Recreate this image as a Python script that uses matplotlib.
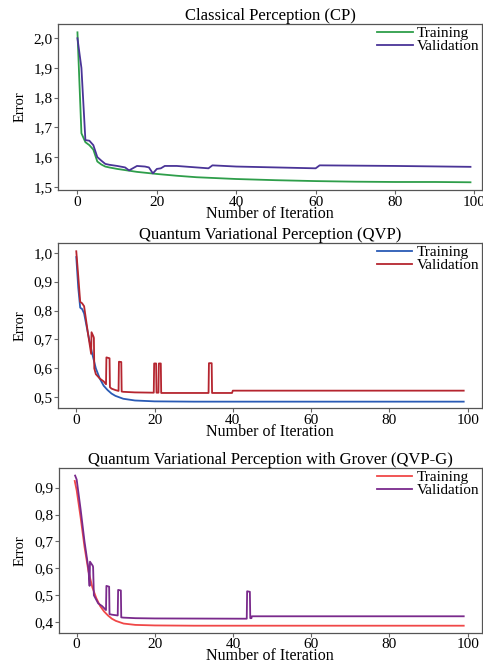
import matplotlib
matplotlib.use("Agg")
import matplotlib.pyplot as plt
from matplotlib.ticker import FuncFormatter

plt.rcParams['font.family'] = ['Liberation Serif', 'DejaVu Serif']

# --- Classical Perception (CP)
cp_train_x = [0, 1, 2, 3, 4, 5, 6, 7, 8, 10, 12, 15, 20, 25, 30, 40, 50, 60, 70, 80, 90, 99]
cp_train_y = [2.02, 1.68, 1.65, 1.64, 1.625, 1.585, 1.575, 1.568, 1.565, 1.56, 1.556, 1.55,
              1.543, 1.537, 1.532, 1.526, 1.522, 1.519, 1.517, 1.516, 1.516, 1.515]
cp_val_x = [0, 1, 2, 3, 4, 5, 6, 7, 8, 10, 12, 13, 15, 17, 18, 19, 20, 21, 22, 25,
            33, 34, 40, 50, 60, 61, 80, 99]
cp_val_y = [2.0, 1.9, 1.657, 1.655, 1.64, 1.60, 1.588, 1.577, 1.574, 1.57, 1.565, 1.555,
            1.57, 1.568, 1.565, 1.545, 1.56, 1.562, 1.57, 1.57, 1.562, 1.572, 1.568,
            1.565, 1.562, 1.572, 1.57, 1.567]

# --- Quantum Variational Perception (QVP)
qvp_train_x = [0, 0.5, 1, 1.5, 2, 3, 4, 5, 6, 7, 8, 9, 10, 12, 15, 20, 30, 99]
qvp_train_y = [0.985, 0.88, 0.81, 0.805, 0.79, 0.72, 0.655, 0.60, 0.565, 0.54, 0.525,
               0.513, 0.505, 0.495, 0.489, 0.486, 0.485, 0.485]
qvp_val_x = [0, 0.5, 1, 1.5, 2, 3, 3.8, 3.9, 4.4, 4.5, 4.6, 5, 6, 7, 7.6, 7.7, 8.5, 8.6,
             9, 10, 10.8, 10.9, 11.5, 11.6, 12, 15, 19.8, 19.9, 20.4, 20.5, 21.0, 21.1,
             21.6, 21.7, 33.8, 33.9, 34.6, 34.7, 39.8, 40.0, 99]
qvp_val_y = [1.005, 0.92, 0.83, 0.825, 0.815, 0.72, 0.65, 0.725, 0.71, 0.705, 0.60, 0.58,
             0.565, 0.555, 0.545, 0.638, 0.635, 0.535, 0.53, 0.525, 0.522, 0.623, 0.622,
             0.52, 0.519, 0.517, 0.516, 0.617, 0.617, 0.516, 0.516, 0.617, 0.617, 0.515,
             0.515, 0.618, 0.618, 0.515, 0.515, 0.523, 0.523]

# --- Quantum Variational Perception with Grover (QVP-G)
qvpg_train_x = [-0.5, 0, 1, 2, 3, 4, 5, 6, 7, 8, 9, 10, 12, 15, 20, 30, 99]
qvpg_train_y = [0.925, 0.89, 0.79, 0.68, 0.59, 0.53, 0.49, 0.46, 0.44, 0.425, 0.413,
                0.405, 0.395, 0.39, 0.388, 0.387, 0.387]
qvpg_val_x = [-0.4, 0, 1, 2, 3, 3.3, 3.4, 4.1, 4.2, 4.4, 5.5, 6.5, 7.5, 7.6, 8.3, 8.4,
              9, 10.5, 10.6, 11.3, 11.4, 12, 15, 20, 43.5, 43.6, 44.3, 44.4, 44.7, 44.8, 99]
qvpg_val_y = [0.945, 0.93, 0.82, 0.70, 0.60, 0.535, 0.625, 0.61, 0.605, 0.50, 0.47, 0.46,
              0.445, 0.535, 0.532, 0.43, 0.428, 0.425, 0.52, 0.518, 0.418, 0.417, 0.415,
              0.414, 0.413, 0.515, 0.513, 0.415, 0.415, 0.422, 0.422]

W, H = 483, 661
fig = plt.figure(figsize=(W / 100, H / 100), dpi=100)


def add_panel(l, t, r, b):
    return fig.add_axes([l / W, 1 - b / H, (r - l) / W, (b - t) / H])


comma = FuncFormatter(lambda v, p: ("%.1f" % v).replace(".", ","))

panels = [
    dict(box=(58, 24, 482, 190), xlim=(-4.9, 101.9), ylim=(1.489, 2.048),
         yticks=[1.5, 1.6, 1.7, 1.8, 1.9, 2.0], title="Classical Perception (CP)",
         train=(cp_train_x, cp_train_y, "#2e9e4a"), val=(cp_val_x, cp_val_y, "#4a3497")),
    dict(box=(58, 243.3, 481.7, 408.3), xlim=(-4.67, 103.6), ylim=(0.462, 1.0325),
         yticks=[0.5, 0.6, 0.7, 0.8, 0.9, 1.0], title="Quantum Variational Perception (QVP)",
         train=(qvp_train_x, qvp_train_y, "#2a5bb5"), val=(qvp_val_x, qvp_val_y, "#b5252f")),
    dict(box=(58.7, 468.3, 481.7, 632.7), xlim=(-4.6, 103.6), ylim=(0.361, 0.972),
         yticks=[0.4, 0.5, 0.6, 0.7, 0.8, 0.9],
         title="Quantum Variational Perception with Grover (QVP-G)",
         train=(qvpg_train_x, qvpg_train_y, "#f04848"), val=(qvpg_val_x, qvpg_val_y, "#7a2a8c")),
]

for p in panels:
    ax = add_panel(*p["box"])
    tx, ty, tc = p["train"]
    vx, vy, vc = p["val"]
    ax.plot(tx, ty, color=tc, lw=1.3, label="Training")
    ax.plot(vx, vy, color=vc, lw=1.3, label="Validation")
    ax.set_xlim(*p["xlim"])
    ax.set_ylim(*p["ylim"])
    ax.set_xticks([0, 20, 40, 60, 80, 100])
    ax.set_yticks(p["yticks"])
    ax.yaxis.set_major_formatter(comma)
    ax.tick_params(direction="out", length=3, width=0.8, color="#666666",
                   labelsize=11, pad=1)
    for s in ax.spines.values():
        s.set_color("#555555")
        s.set_linewidth(0.9)
    ax.set_title(p["title"], fontsize=12, pad=3)
    ax.set_xlabel("Number of Iteration", fontsize=11.5, labelpad=-2)
    ax.set_ylabel("Error", fontsize=10.5, labelpad=5)
    ax.legend(loc="upper right", frameon=False, fontsize=11, handlelength=2.3,
              handletextpad=0.3, labelspacing=-0.05, borderaxespad=0.0,
              borderpad=0.15)

fig.savefig("out.png", dpi=100)
